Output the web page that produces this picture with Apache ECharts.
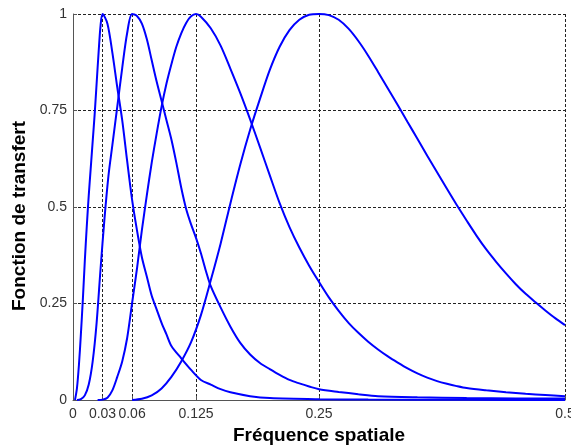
<!DOCTYPE html>
<html>
<head>
<meta charset="utf-8">
<script src="https://cdn.jsdelivr.net/npm/echarts@6/dist/echarts.min.js"></script>
<style>html,body{margin:0;padding:0;background:#fff}#c{width:571px;height:447px}</style>
</head>
<body>
<div id="c"></div>
<script>
// Tick values
const xTicks = [0, 0.03, 0.06, 0.125, 0.25, 0.5];
const yTicks = [0, 0.25, 0.5, 0.75, 1];

// Curve 1 (peak 0.03)
const c1X = [0.002,0.004,0.006,0.008,0.01,0.012,0.014,0.016,0.018,0.02,0.022,0.024,0.026,0.028,0.03,0.035,0.04,0.045,0.05,0.055,0.06,0.065,0.07,0.075,0.08,0.085,0.09,0.095,0.1,0.11,0.12,0.13,0.14,0.15,0.16,0.18,0.2,0.25,0.3,0.4,0.5];
const c1Y = [0,0.03,0.09,0.17,0.26,0.36,0.45,0.53,0.6,0.67,0.74,0.82,0.9,0.97,1,0.975,0.9,0.81,0.725,0.62,0.52,0.44,0.37,0.32,0.27,0.235,0.2,0.17,0.14,0.108,0.078,0.052,0.04,0.028,0.02,0.01,0.005,0.002,0.001,0.0005,0];

// Curve 2 (peak 0.06)
const c2X = [0.004,0.008,0.012,0.016,0.02,0.024,0.028,0.032,0.036,0.04,0.045,0.05,0.055,0.06,0.065,0.07,0.075,0.08,0.085,0.09,0.095,0.1,0.105,0.11,0.115,0.12,0.125,0.13,0.135,0.14,0.15,0.16,0.17,0.18,0.19,0.2,0.21,0.22,0.23,0.24,0.25,0.27,0.29,0.31,0.35,0.4,0.45,0.5];
const c2Y = [0,0.002,0.012,0.04,0.1,0.2,0.34,0.47,0.58,0.66,0.76,0.86,0.95,1,0.995,0.975,0.935,0.88,0.825,0.775,0.725,0.675,0.615,0.55,0.495,0.455,0.42,0.38,0.335,0.295,0.24,0.19,0.148,0.118,0.096,0.08,0.065,0.052,0.043,0.035,0.028,0.021,0.015,0.01,0.007,0.005,0.004,0.004];

// Curve 3 (peak 0.125)
const c3X = [0.025,0.03,0.035,0.04,0.045,0.05,0.055,0.06,0.065,0.07,0.075,0.08,0.085,0.09,0.095,0.1,0.105,0.11,0.115,0.12,0.125,0.13,0.14,0.15,0.16,0.17,0.18,0.19,0.2,0.21,0.22,0.23,0.24,0.25,0.26,0.27,0.28,0.29,0.3,0.31,0.32,0.33,0.34,0.35,0.36,0.37,0.38,0.39,0.4,0.42,0.44,0.46,0.48,0.5];
const c3Y = [0,0.001,0.006,0.025,0.06,0.1,0.16,0.25,0.34,0.44,0.53,0.615,0.69,0.76,0.82,0.87,0.915,0.95,0.977,0.994,1,0.993,0.963,0.918,0.858,0.795,0.727,0.655,0.582,0.51,0.448,0.395,0.348,0.306,0.266,0.231,0.2,0.174,0.151,0.131,0.113,0.097,0.082,0.069,0.058,0.049,0.042,0.036,0.031,0.025,0.02,0.016,0.013,0.01];

// Curve 4 (peak 0.25)
const c4X = [0.06,0.07,0.08,0.09,0.1,0.11,0.12,0.13,0.14,0.15,0.16,0.17,0.18,0.19,0.2,0.21,0.22,0.23,0.24,0.25,0.26,0.27,0.28,0.29,0.3,0.31,0.32,0.33,0.34,0.35,0.36,0.37,0.38,0.39,0.4,0.41,0.42,0.43,0.44,0.45,0.46,0.47,0.48,0.49,0.5];
const c4Y = [0,0.003,0.012,0.03,0.06,0.1,0.15,0.22,0.31,0.405,0.51,0.61,0.7,0.78,0.855,0.915,0.958,0.985,0.998,1,0.997,0.985,0.962,0.93,0.892,0.85,0.807,0.764,0.72,0.677,0.633,0.59,0.547,0.505,0.465,0.426,0.39,0.358,0.328,0.3,0.275,0.253,0.232,0.212,0.194];

const xNames = ['Fréquence spatiale'];
const yNames = ['Fonction de transfert'];

function pairs(xs, ys) { return xs.map((x, i) => [x, ys[i]]); }

const font = '"Liberation Sans", Arial, sans-serif';
const gridDash = { color: '#222', width: 1, type: [3, 2] };

const chart = echarts.init(document.getElementById('c'), null, { renderer: 'canvas' });
const curves = [pairs(c1X, c1Y), pairs(c2X, c2Y), pairs(c3X, c3Y), pairs(c4X, c4Y)];

chart.setOption({
  animation: false,
  backgroundColor: '#fff',
  grid: { left: 73, right: 6, top: 14, bottom: 47, containLabel: false, outerBoundsMode: 'none' },
  xAxis: {
    type: 'value', min: 0, max: 0.5,
    name: xNames[0], nameLocation: 'middle', nameGap: 25,
    nameTextStyle: { fontFamily: font, fontSize: 19, fontWeight: 'bold', color: '#000' },
    axisLine: { show: true, onZero: false, lineStyle: { color: '#555', width: 1 } },
    axisTick: { show: true, inside: true, length: 4, customValues: xTicks, lineStyle: { color: '#555' } },
    axisLabel: { customValues: xTicks, fontFamily: font, fontSize: 14, color: '#333', margin: 7,
      hideOverlap: false, formatter: v => String(v) },
    splitLine: { show: true, lineStyle: gridDash }
  },
  yAxis: {
    type: 'value', min: 0, max: 1, interval: 0.25,
    name: yNames[0], nameLocation: 'middle', nameGap: 32,
    nameTextStyle: { fontFamily: font, fontSize: 19, fontWeight: 'bold', color: '#000', padding: [0, 18, 0, 0] },
    axisLine: { show: true, onZero: false, lineStyle: { color: '#555', width: 1 } },
    axisTick: { show: true, inside: true, length: 4, lineStyle: { color: '#555' } },
    axisLabel: { fontFamily: font, fontSize: 14, color: '#333', margin: 6,
      formatter: v => String(v) },
    splitLine: { show: true, lineStyle: gridDash }
  },
  series: curves.map(d => ({
    type: 'line', data: d, showSymbol: false, smooth: 0.3,
    lineStyle: { color: '#0000ff', width: 2 }, clip: true
  }))
});
</script>
</body>
</html>
